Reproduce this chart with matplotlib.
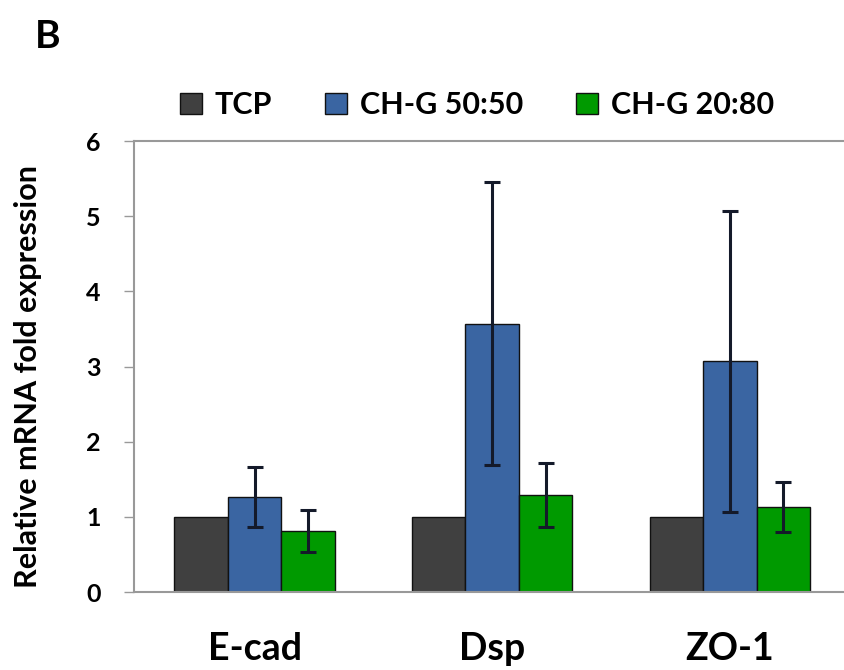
import matplotlib

matplotlib.use('Agg')

import matplotlib.pyplot as plt
import numpy as np


plt.rcParams.update({
    'font.family': ['Lato', 'DejaVu Sans'],
    'font.weight': 'bold',
})

genes = ['E-cad', 'Dsp', 'ZO-1']
series = ['TCP', 'CH-G 50:50', 'CH-G 20:80']
means = {
    'TCP':        [1.00, 1.00, 1.00],
    'CH-G 50:50': [1.26, 3.57, 3.07],
    'CH-G 20:80': [0.81, 1.29, 1.13],
}
errors = {
    'TCP':        [0.0, 0.0, 0.0],
    'CH-G 50:50': [0.40, 1.88, 2.00],
    'CH-G 20:80': [0.28, 0.42, 0.33],
}
colors = ['#404040', '#3a65a2', '#009a00']

fig = plt.figure(figsize=(8.44, 6.70), dpi=100)
ax = fig.add_axes([0.1588, 0.1164, 0.8412, 0.6731])

x = np.arange(len(genes))
width = 0.225

for i, (name, col) in enumerate(zip(series, colors)):
    pos = x + (i - 1) * width
    ax.bar(pos, means[name], width=width, color=col, edgecolor='#111111',
           linewidth=1.0, label=name, zorder=2)
    err = np.array(errors[name])
    has = err > 0
    if has.any():
        ax.errorbar(pos[has], np.array(means[name])[has], yerr=err[has], fmt='none',
                    ecolor='#141a2a', elinewidth=2.2, capsize=6, capthick=2.2, zorder=3)

ax.set_xlim(-0.507, 2.48)
ax.set_ylim(0, 6)
ax.set_yticks(range(0, 7))
ax.set_xticks(x)
ax.set_xticklabels(genes, fontsize=27, fontweight='bold')
ax.tick_params(axis='x', length=0, pad=29)
ax.tick_params(axis='y', length=7, width=1, color='#999999', labelsize=18, pad=17)
for lbl in ax.get_yticklabels():
    lbl.set_fontweight('bold')

for side in ['left', 'bottom', 'top']:
    ax.spines[side].set_color('#999999')
    ax.spines[side].set_linewidth(1.5)
ax.spines['right'].set_visible(False)

ax.set_ylabel('Relative mRNA fold expression', fontsize=22, fontweight='bold')
ax.yaxis.set_label_coords(-0.13, 0.478)

ax.legend(loc='center', bbox_to_anchor=(0.565, 0.843), bbox_transform=fig.transFigure,
          ncol=3, frameon=False, handlelength=0.72, handleheight=0.72,
          handletextpad=0.42, columnspacing=1.73, borderpad=0,
          prop={'weight': 'bold', 'size': 22})

fig.text(0.041, 0.946, 'B', fontsize=28, fontweight='bold', ha='left', va='center')

fig.savefig('out.png', dpi=100)
